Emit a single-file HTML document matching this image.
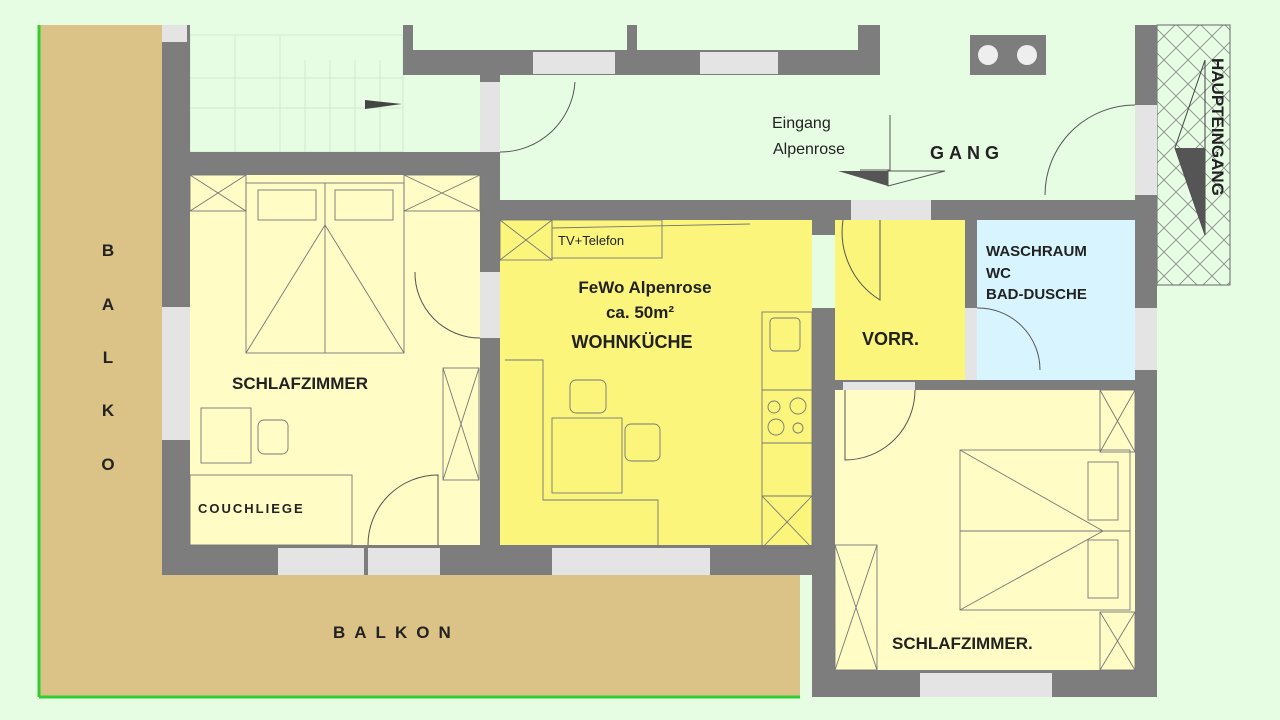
<!DOCTYPE html>
<html><head><meta charset="utf-8"><style>
html,body{margin:0;padding:0;background:#e6fde4;}
svg{display:block;}
text{font-family:"Liberation Sans",Arial,sans-serif;font-weight:bold;fill:#222;}
</style></head><body>
<svg width="1280" height="720" viewBox="0 0 1280 720" xmlns="http://www.w3.org/2000/svg">
<defs>
<pattern id="hatch" width="24" height="24" patternUnits="userSpaceOnUse">
<path d="M0 0L24 24M24 0L0 24" stroke="#888" stroke-width="0.8"/>
</pattern>
</defs>
<rect width="1280" height="720" fill="#e6fde4"/>
<!-- balcony -->
<rect x="39" y="25" width="124" height="672" fill="#dbc387"/>
<rect x="39" y="575" width="761" height="122" fill="#dbc387"/>
<line x1="39" y1="25" x2="39" y2="697" stroke="#3c3" stroke-width="3"/>
<line x1="39" y1="697" x2="800" y2="697" stroke="#3c3" stroke-width="3"/>
<!-- haupteingang hatch -->
<rect x="1157" y="25" width="73" height="260" fill="url(#hatch)" stroke="#666"/>
<!-- stair grid faint -->
<g stroke="#cfe9cf" stroke-width="1" fill="none">
<rect x="190" y="35" width="213" height="117"/>
<line x1="235" y1="35" x2="235" y2="152"/><line x1="280" y1="35" x2="280" y2="152"/><line x1="305" y1="60" x2="305" y2="152"/><line x1="330" y1="60" x2="330" y2="152"/><line x1="355" y1="60" x2="355" y2="152"/><line x1="380" y1="60" x2="380" y2="152"/>
<line x1="190" y1="78" x2="403" y2="78"/><line x1="190" y1="108" x2="403" y2="108"/>
</g>
<path d="M365 100L402 104L365 109Z" fill="#444"/>
<!-- rooms -->
<rect x="190" y="175" width="290" height="370" fill="#fffcc5"/>
<rect x="500" y="220" width="312" height="328" fill="#fbf57c"/>
<rect x="835" y="220" width="130" height="160" fill="#fbf57c"/>
<rect x="977" y="220" width="158" height="160" fill="#d8f5ff"/>
<rect x="835" y="390" width="300" height="280" fill="#fffcc5"/>
<!-- walls -->
<g fill="#7d7d7d">
<rect x="162" y="25" width="28" height="550"/>
<rect x="162" y="152" width="338" height="23"/>
<rect x="480" y="50" width="20" height="498"/>
<rect x="162" y="545" width="673" height="30"/>
<rect x="403" y="25" width="10" height="50"/>
<rect x="403" y="50" width="477" height="25"/>
<rect x="627" y="25" width="10" height="30"/>
<rect x="858" y="25" width="22" height="50"/>
<rect x="500" y="200" width="657" height="20"/>
<rect x="812" y="200" width="23" height="35"/>
<rect x="812" y="308" width="23" height="389"/>
<rect x="965" y="220" width="12" height="165"/>
<rect x="835" y="380" width="322" height="10"/>
<rect x="812" y="670" width="345" height="27"/>
<rect x="1135" y="25" width="22" height="672"/>
<rect x="970" y="35" width="76" height="40"/>
</g>
<circle cx="988" cy="55" r="10" fill="#eee"/><circle cx="1027" cy="55" r="10" fill="#eee"/>
<!-- windows/doors light -->
<g fill="#e4e4e4">
<rect x="162" y="25" width="25" height="17"/>
<rect x="162" y="307" width="28" height="133"/>
<rect x="480" y="82" width="20" height="70"/>
<rect x="533" y="52" width="82" height="22"/>
<rect x="700" y="52" width="78" height="22"/>
<rect x="480" y="272" width="20" height="66"/>
<rect x="278" y="548" width="86" height="27"/>
<rect x="368" y="548" width="72" height="27"/>
<rect x="552" y="548" width="158" height="27"/>
<rect x="851" y="200" width="80" height="20"/>
<rect x="1135" y="105" width="22" height="90"/>
<rect x="1135" y="308" width="22" height="62"/>
<rect x="843" y="382" width="72" height="8"/>
<rect x="920" y="673" width="132" height="24"/>
<rect x="965" y="308" width="12" height="72"/>
</g>
<!-- door arcs & furniture lines -->
<g fill="none" stroke="#555" stroke-width="1">
<path d="M500 152A75 75 0 0 0 575 82"/>
<path d="M415 272A65 65 0 0 0 480 338"/>
<path d="M368 545A70 70 0 0 1 438 475L438 545"/>
<path d="M1045 195A90 90 0 0 1 1135 105"/>
<path d="M843 220A80 80 0 0 0 880 300L880 220"/>
<path d="M977 308A62 62 0 0 1 1040 370"/>
<path d="M845 390L845 460A70 70 0 0 0 915 390"/>
<path d="M860 170L890 170L890 115" />
</g>
<path d="M838 171L888 171L888 186Z" fill="#555"/>
<path d="M888 171L945 171L888 186Z" fill="none" stroke="#555"/>
<!-- haupteingang arrow -->
<path d="M1205 60L1175 148L1205 235Z" fill="none" stroke="#444"/>
<path d="M1175 148L1205 148L1205 235Z" fill="#555"/>
<g fill="none" stroke="#777" stroke-width="0.9">
<!-- bed 1 -->
<rect x="190" y="175" width="56" height="36"/><path d="M190 175L246 211M246 175L190 211"/>
<rect x="404" y="175" width="76" height="36"/><path d="M404 175L480 211M480 175L404 211"/>
<rect x="246" y="183" width="158" height="170"/><line x1="325" y1="183" x2="325" y2="353"/>
<path d="M246 353L325 225L404 353"/>
<rect x="258" y="190" width="58" height="30"/><rect x="335" y="190" width="58" height="30"/>
<rect x="443" y="368" width="36" height="112"/><path d="M443 368L479 480M479 368L443 480"/>
<rect x="201" y="408" width="50" height="55"/><rect x="258" y="420" width="30" height="34" rx="6"/>
<rect x="190" y="475" width="162" height="70"/>
<!-- kitchen -->
<rect x="500" y="220" width="52" height="40"/><path d="M500 220L552 260M552 220L500 260"/>
<line x1="552" y1="228" x2="750" y2="224"/>
<rect x="552" y="220" width="110" height="38"/>
<path d="M505 360L543 360L543 500L658 500L658 548"/>
<rect x="552" y="418" width="70" height="75"/><rect x="570" y="380" width="36" height="33" rx="6"/><rect x="625" y="424" width="35" height="37" rx="6"/>
<rect x="762" y="312" width="50" height="236"/><line x1="762" y1="390" x2="812" y2="390"/><line x1="762" y1="443" x2="812" y2="443"/><line x1="762" y1="496" x2="812" y2="496"/>
<path d="M762 496L812 548M812 496L762 548"/>
<rect x="770" y="318" width="30" height="33" rx="4"/>
<circle cx="774" cy="407" r="6"/><circle cx="798" cy="406" r="8"/><circle cx="776" cy="427" r="8"/><circle cx="798" cy="428" r="5"/>
<!-- bedroom 2 -->
<rect x="1100" y="390" width="35" height="62"/><path d="M1100 390L1135 452M1135 390L1100 452"/>
<rect x="1100" y="612" width="35" height="58"/><path d="M1100 612L1135 670M1135 612L1100 670"/>
<rect x="960" y="450" width="170" height="160"/><line x1="960" y1="531" x2="1130" y2="531"/>
<path d="M960 450L1103 531L960 610"/>
<rect x="1088" y="462" width="30" height="58"/><rect x="1088" y="540" width="30" height="58"/>
<rect x="835" y="545" width="42" height="125"/><path d="M835 545L877 670M877 545L835 670"/>
</g>
<!-- labels -->
<g font-size="17">
<text x="108" y="256" text-anchor="middle">B</text>
<text x="108" y="310" text-anchor="middle">A</text>
<text x="108" y="363" text-anchor="middle">L</text>
<text x="108" y="416" text-anchor="middle">K</text>
<text x="108" y="470" text-anchor="middle">O</text>
</g>
<text x="333" y="638" font-size="17" letter-spacing="9">BALKON</text>
<text x="232" y="389" font-size="17">SCHLAFZIMMER</text>
<text x="198" y="513" font-size="13" letter-spacing="2">COUCHLIEGE</text>
<text x="558" y="245" font-size="13" font-weight="normal" style="font-weight:normal">TV+Telefon</text>
<text x="645" y="293" font-size="17" text-anchor="middle">FeWo Alpenrose</text>
<text x="640" y="318" font-size="17" text-anchor="middle">ca. 50m²</text>
<text x="632" y="348" font-size="18" text-anchor="middle">WOHNKÜCHE</text>
<text x="862" y="345" font-size="18">VORR.</text>
<text x="986" y="256" font-size="15">WASCHRAUM</text>
<text x="986" y="278" font-size="15">WC</text>
<text x="986" y="299" font-size="15">BAD-DUSCHE</text>
<text x="772" y="128" font-size="16" style="font-weight:normal">Eingang</text>
<text x="773" y="154" font-size="16" style="font-weight:normal">Alpenrose</text>
<text x="930" y="159" font-size="18" letter-spacing="5">GANG</text>
<text x="892" y="649" font-size="17">SCHLAFZIMMER.</text>
<text transform="translate(1212,58) rotate(90)" font-size="17">HAUPTEINGANG</text>
</svg>
</body></html>
